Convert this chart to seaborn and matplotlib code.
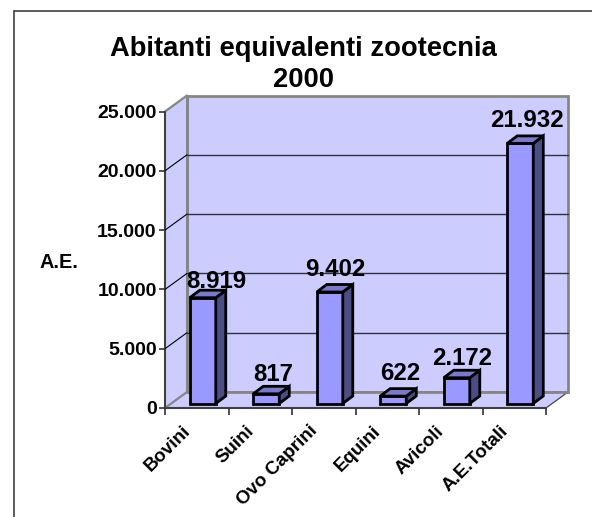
import matplotlib
matplotlib.use("Agg")
import matplotlib.pyplot as plt
import seaborn as sns
import pandas as pd
from matplotlib.patches import Polygon
from matplotlib.lines import Line2D
from matplotlib.transforms import Affine2D

categories = ["Bovini", "Suini", "Ovo Caprini", "Equini", "Avicoli", "A.E.Totali"]
values = [8919, 817, 9402, 622, 2172, 21932]
value_labels = ["8.919", "817", "9.402", "622", "2.172", "21.932"]
y_ticks = [0, 5000, 10000, 15000, 20000, 25000]
y_tick_labels = ["0", "5.000", "10.000", "15.000", "20.000", "25.000"]
title_lines = ["Abitanti equivalenti zootecnia", "2000"]
y_label = "A.E."

W, H = 592, 517
FRONT_L, FRONT_R, FRONT_B, FRONT_T = 165, 546, 408, 111.5
DEPTH_X, DEPTH_Y = 22, 16
BAR_DX, BAR_DY = 6, 4.5
BAR_DEPTH_X, BAR_DEPTH_Y = 10, 7.5
LABEL_NUDGE = {"8.919": (7, -6), "817": (0, -3), "9.402": (-2, 0), "2.172": (-2, -3)}

WALL = "#ccccff"
BAR = "#9999ff"
TOP = "#7a7acc"
SIDE = "#4d4d85"
GREY = "#868686"

sns.set_theme(style="white")
plt.rcParams["font.family"] = ["Liberation Sans", "DejaVu Sans"]
plt.rcParams["font.weight"] = "bold"

fig = plt.figure(figsize=(W / 100, H / 100), dpi=100, facecolor="white")
ax = fig.add_axes([FRONT_L / W, 1 - FRONT_B / H, (FRONT_R - FRONT_L) / W, (FRONT_B - FRONT_T) / H])
ax.patch.set_alpha(0)
for s in ax.spines.values():
    s.set_visible(False)


def px(x, y):
    return fig.transFigure.inverted().transform((x, H - y))


def fig_poly(points, **kw):
    fig.add_artist(Polygon([px(*p) for p in points], closed=True, transform=fig.transFigure, **kw))


def fig_line(p, q, **kw):
    a, b = px(*p), px(*q)
    fig.add_artist(Line2D([a[0], b[0]], [a[1], b[1]], transform=fig.transFigure, **kw))


# outer frame: only left and top edges show in the crop
fig_line((13.5, 517), (13.5, 11), color="#303030", lw=1.1, zorder=-5)
fig_line((13.5, 11), (592, 11), color="#303030", lw=1.1, zorder=-5)

# walls and floor
fl, fr, fb = FRONT_L, FRONT_R, FRONT_B
ft = FRONT_T
dx, dy = DEPTH_X, DEPTH_Y
fig_poly([(fl, fb), (fl, ft), (fl + dx, ft - dy), (fl + dx, fb - dy)], fc=WALL, ec="none", zorder=-4)
fig_poly([(fl + dx, fb - dy), (fl + dx, ft - dy), (fr + dx, ft - dy), (fr + dx, fb - dy)], fc=WALL, ec=GREY, lw=2, zorder=-4)
fig_poly([(fl, fb), (fl + dx, fb - dy), (fr + dx, fb - dy), (fr, fb)], fc=WALL, ec="none", zorder=-4)
fig_line((fl, fb), (fl + dx, fb - dy), color=GREY, lw=1.6, zorder=-3)
fig_line((fr, fb), (fr + dx, fb - dy), color="#444444", lw=0.9, zorder=-3)
fig_line((fl + dx, fb - dy), (fr + dx, fb - dy), color=GREY, lw=2, zorder=-3)
fig_line((fl, ft), (fl + dx, ft - dy), color=GREY, lw=1.6, zorder=-3)
fig_line((fl + dx, fb - dy), (fl + dx, ft - dy), color=GREY, lw=2.2, zorder=-3)
fig_line((fl, fb), (fl, ft), color="#404040", lw=1.5, zorder=-3)
fig_line((fl, fb), (fr, fb), color="#404040", lw=1.5, zorder=-3)

# bars
data = pd.DataFrame({"categoria": categories, "valore": values})
sns.barplot(data=data, x="categoria", y="valore", ax=ax, color=BAR, saturation=1, width=0.41,
            edgecolor="black", linewidth=2, zorder=4)
ax.set_xlim(-0.5, len(categories) - 0.5)
ax.set_ylim(0, y_ticks[-1])
fig.canvas.draw()

shift = Affine2D().translate(BAR_DX, BAR_DY)
to_top = lambda a, b: (a, H - b)
for patch, label, val in zip(ax.patches, value_labels, values):
    patch.set_transform(ax.transData + shift)
    patch.set_clip_on(False)
    (x0, y0), (x1, y1) = ax.transData.transform([(patch.get_x(), 0), (patch.get_x() + patch.get_width(), val)])
    x0 += BAR_DX; x1 += BAR_DX; y0 += BAR_DY; y1 += BAR_DY
    bx, by = BAR_DEPTH_X, BAR_DEPTH_Y
    fig_poly([to_top(x1, y0), to_top(x1, y1), to_top(x1 + bx, y1 + by), to_top(x1 + bx, y0 + by)],
             fc=SIDE, ec="black", lw=2, zorder=1)
    fig_poly([to_top(x0, y1), to_top(x0 + bx, y1 + by), to_top(x1 + bx, y1 + by), to_top(x1, y1)],
             fc=TOP, ec="black", lw=2, zorder=1)
    nx, ny = LABEL_NUDGE.get(label, (0, 0))
    ax.annotate(label, xy=(patch.get_x() + patch.get_width() / 2, val), xycoords="data",
                xytext=(BAR_DX + 7 + nx, BAR_DY + 11 + ny), textcoords="offset pixels", ha="center", va="bottom",
                fontsize=17.3, fontweight="bold", color="black", zorder=6, annotation_clip=False)

# axes text and ticks
ax.set_xlabel("")
ax.set_ylabel("")
ax.set_yticks(y_ticks)
ax.set_yticklabels(y_tick_labels, fontsize=14, fontweight="bold", color="black")
ax.tick_params(axis="y", left=True, length=4, width=1.2, color="#333333", pad=2)

# depth and back grid lines
for t in y_ticks[1:-1]:
    _, yd = ax.transData.transform((0, t))
    y = H - yd
    fig_line((fl, y), (fl + dx, y - dy), color="black", lw=0.8, zorder=-2)
    fig_line((fl + dx, y - dy), (fr + dx, y - dy), color="#303040", lw=1.0, zorder=-2)

ax.set_xticks([i - 0.5 for i in range(len(categories) + 1)], minor=True)
ax.tick_params(axis="x", which="minor", bottom=True, length=5, width=1.2, color="#333333")
ax.set_xticks(range(len(categories)))
ax.set_xticklabels(categories, rotation=45, ha="right", rotation_mode="anchor", fontsize=13.5,
                   fontweight="bold", color="black")
ax.tick_params(axis="x", which="major", bottom=False, pad=8)
for tl in ax.get_xticklabels():
    tl.set_transform(tl.get_transform() + Affine2D().translate(-15, 5))

a = px(59, 263)
fig.text(a[0], a[1], y_label, fontsize=14.3, fontweight="bold", ha="center", va="center", color="black")
for line, yy in zip(title_lines, (49, 80)):
    a = px(303.5, yy)
    fig.text(a[0], a[1], line, fontsize=19.7, fontweight="bold", ha="center", va="center", color="black")

fig.savefig("out.png", dpi=100, facecolor="white")
